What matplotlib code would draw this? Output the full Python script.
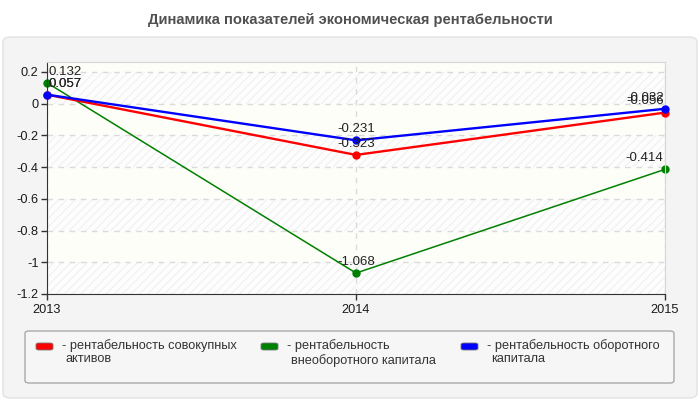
import matplotlib
matplotlib.use('Agg')
import matplotlib.pyplot as plt
from matplotlib.patches import FancyBboxPatch

# data
years = [2013, 2014, 2015]
assets = [0.057, -0.323, -0.056]        # рентабельность совокупных активов
noncurrent = [0.132, -1.068, -0.414]    # рентабельность внеоборотного капитала
current = [0.057, -0.231, -0.032]       # рентабельность оборотного капитала
yticks = [0.2, 0, -0.2, -0.4, -0.6, -0.8, -1, -1.2]
ytick_labels = ['0.2', '0', '-0.2', '-0.4', '-0.6', '-0.8', '-1', '-1.2']
title = 'Динамика показателей экономическая рентабельности'
legend_lines = [
    ['- рентабельность совокупных', 'активов'],
    ['- рентабельность', 'внеоборотного капитала'],
    ['- рентабельность оборотного', 'капитала'],
]

plt.rcParams['font.family'] = ['Liberation Sans', 'DejaVu Sans']
plt.rcParams['hatch.linewidth'] = 0.7

W, H = 700, 400
fig = plt.figure(figsize=(7, 4), dpi=100)
fig.patch.set_facecolor('white')


def px(x, y):
    return x / W, 1 - y / H


# outer panel
x0, y0 = px(3, 398)
x1, y1 = px(697, 37)
panel = FancyBboxPatch((x0, y0), x1 - x0, y1 - y0, transform=fig.transFigure,
                       boxstyle='round,pad=0,rounding_size=0.012',
                       facecolor='#f4f4f4', edgecolor='#e2e2e2', lw=1, zorder=-2)
fig.patches.append(panel)

fig.text(0.5, 1 - 20 / H, title, ha='center', va='center', fontsize=10.6,
         fontweight='bold', color='#505050')

ax = fig.add_axes([47 / W, 1 - 294 / H, (665 - 47) / W, (294 - 62) / H])
ax.set_facecolor('#fefef8')
ax.set_xlim(2013, 2015)
ax.set_ylim(-1.2, 0.263)

# alternating hatched bands
for lo, hi in [(-1.2, -1.0), (-0.8, -0.6), (-0.4, -0.2), (0, 0.2)]:
    ax.axhspan(lo, hi, facecolor='#fdfdfd', edgecolor='#eeeeee', hatch='////',
               lw=0, zorder=0.2)

ax.set_axisbelow(True)
ax.grid(True, color='#dadada', lw=1, linestyle=(0, (4, 4)))

ax.set_yticks(yticks)
ax.set_yticklabels(ytick_labels)
ax.set_xticks(years)
ax.set_xticklabels([str(y) for y in years])
ax.tick_params(axis='both', direction='out', length=4, width=1, color='#333333',
               labelsize=9.2, labelcolor='#1a1a1a', pad=2)
ax.tick_params(axis='x', pad=3)

for s in ['left', 'bottom']:
    ax.spines[s].set_color('#333333')
for s in ['top', 'right']:
    ax.spines[s].set_color('#d6d6d6')

series = [(noncurrent, '#008000', 1.1, 2), (assets, '#ff0000', 1.7, 3),
          (current, '#0000ff', 1.7, 4)]
for vals, col, lw, z in series:
    ax.plot(years, vals, color=col, lw=lw, marker='o', markersize=5, zorder=z,
            clip_on=False)

# value labels
for vals, col, lw, z in [series[1], series[0], series[2]]:
    for i, (x, v) in enumerate(zip(years, vals)):
        ha = ['left', 'center', 'right'][i]
        dx = [1, 0, -1][i]
        ax.annotate(f'{v:g}', (x, v), xytext=(dx, 8), textcoords='offset points',
                    ha=ha, va='center', fontsize=9.5, color='#222222', zorder=6)

# legend box
lx0, ly0 = px(25, 383)
lx1, ly1 = px(674, 331)
lbox = FancyBboxPatch((lx0, ly0), lx1 - lx0, ly1 - ly0, transform=fig.transFigure,
                      boxstyle='round,pad=0,rounding_size=0.006',
                      facecolor='#f6f6f6', edgecolor='#a9a9a9', lw=1, zorder=-1)
fig.patches.append(lbox)

colors = ['#ff0000', '#008000', '#0000ff']
sw_x = [36, 261, 461]
tx_x = [62, 287, 487]
line2_y = [359, 361, 359]
for k in range(3):
    sx, sy = px(sw_x[k], 350)
    sw = FancyBboxPatch((sx, sy), 17 / W, 7 / H, transform=fig.transFigure,
                        boxstyle='round,pad=0,rounding_size=0.004',
                        facecolor=colors[k], edgecolor='#777777', lw=0.6)
    fig.patches.append(sw)
    tx, ty = px(tx_x[k], 346)
    fig.text(tx, ty, legend_lines[k][0], ha='left', va='center', fontsize=9.2,
             color='#333333')
    tx2, ty2 = px(tx_x[k] + 4, line2_y[k])
    fig.text(tx2, ty2, legend_lines[k][1], ha='left', va='center', fontsize=9.2,
             color='#333333')

fig.savefig('out.png', dpi=100)
